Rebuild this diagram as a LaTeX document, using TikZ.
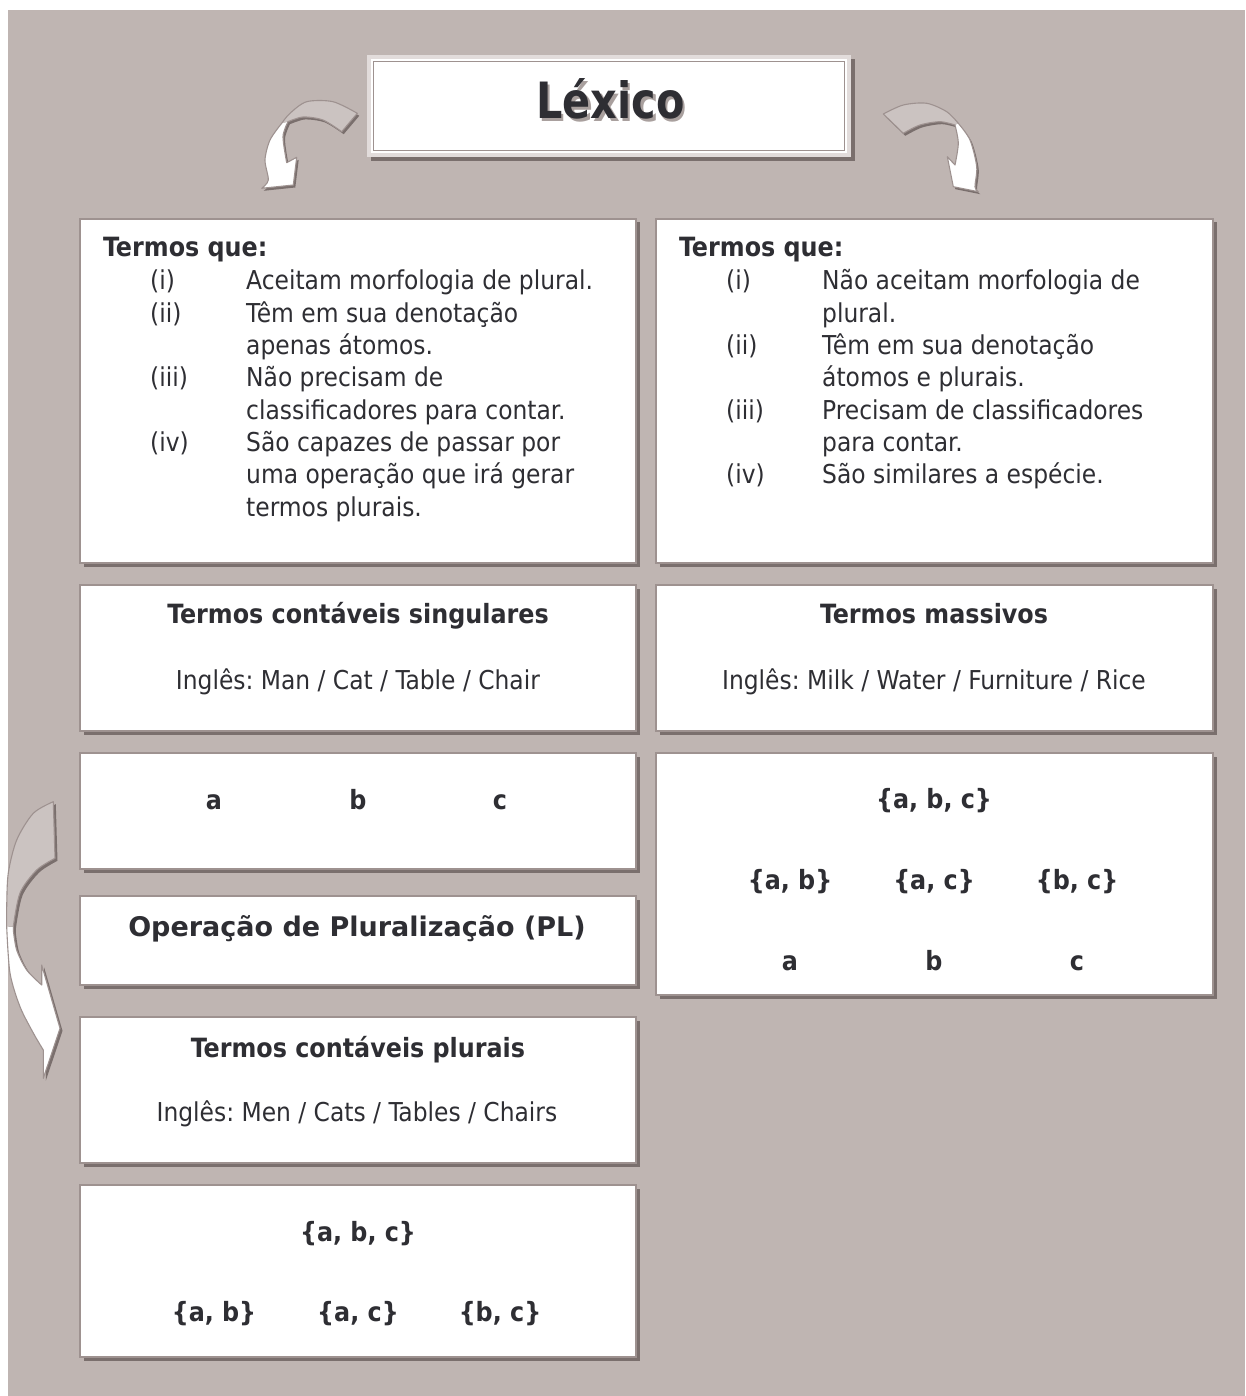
\documentclass[tikz,border=0pt]{standalone}
\usepackage{fontspec}
\setmainfont{DejaVu Sans Condensed}
\newfontfamily\wideb{DejaVu Sans}
\usetikzlibrary{shadows}
\frenchspacing
\definecolor{bg}{HTML}{BFB5B2}
\definecolor{ink}{HTML}{2E2E33}
\definecolor{boxline}{HTML}{9E9290}
\definecolor{shadowc}{HTML}{7A6F6D}
\definecolor{argray}{HTML}{CBC3C1}
\definecolor{framelight}{HTML}{E2DCDB}
\definecolor{tshadow}{HTML}{A9A09E}
\tikzset{
  box/.style={draw=boxline, line width=2.5pt, fill=white, inner sep=0pt,
    drop shadow={shadow xshift=3.5pt, shadow yshift=-3.5pt, fill=shadowc, opacity=1}},
  lbl/.style={anchor=base west, inner sep=0pt},
  ctr/.style={anchor=base, inner sep=0pt},
  arline/.style={draw=boxline, line width=1.1pt, line join=round},
  bodyf/.style={font=\fontsize{26}{30}\selectfont},
  boldf/.style={font=\fontsize{26.5}{30}\selectfont\bfseries},
}
\begin{document}
\begin{tikzpicture}[x=1pt,y=-1pt, every node/.style={text=ink, bodyf}]
\useasboundingbox (0,0) rectangle (1245,1396);
\fill[white] (0,0) rectangle (1245,1396);
\fill[bg] (8,10) rectangle (1245,1396);

% ---------- title ----------
\fill[shadowc] (371,59) rectangle (855,161);
\node[fill=framelight, inner sep=0pt, minimum width=484pt, minimum height=102pt] (T) at (609,106) {};
\fill[white] ([xshift=4pt,yshift=-4pt]T.north west) rectangle ([xshift=-4pt,yshift=4pt]T.south east);
\draw[boxline, line width=1.3pt] ([xshift=6.5pt,yshift=-6.5pt]T.north west) rectangle ([xshift=-6.5pt,yshift=6.5pt]T.south east);
\node[ctr, text=tshadow, font=\fontsize{50}{50}\selectfont\bfseries, xscale=0.92, transform shape] at (613,121.5) {Léxico};
\node[ctr, font=\fontsize{50}{50}\selectfont\bfseries, xscale=0.92, transform shape] (Tt) at (610.5,119) {Léxico};

% ---------- small arrows ----------
\begin{scope}[shift={(2,2.5)}]
\fill[shadowc] (357.3,113.3) -- (341.7,131.7) -- plot[smooth] coordinates {(341.7,131.7) (323,120) (303,117) (288,121.7)}
  -- plot[smooth] coordinates {(288,121.7) (283,136.7) (286.7,162.7)} -- (296.7,157.3) -- (293.3,185) -- (261.7,188.3)
  -- plot[smooth] coordinates {(261.7,188.3) (268.3,180) (265,160) (270,140) (281.7,123.3)}
  -- plot[smooth] coordinates {(281.7,123.3) (290,113.3) (306.7,101.7) (333,101.7) (357.3,113.3)} -- cycle;
\fill[shadowc] (883.3,114) -- (903.3,133.3) -- plot[smooth] coordinates {(903.3,133.3) (920,125) (940,121.7) (955,125)}
  -- plot[smooth] coordinates {(955,125) (958.3,143.3) (955,165)} -- (947.3,156.7) -- (953.3,186.7) -- (978.3,191.7)
  -- plot[smooth] coordinates {(978.3,191.7) (975,186.7) (976.7,166.7) (970,140) (958.3,123.3)}
  -- plot[smooth] coordinates {(958.3,123.3) (946.7,111.7) (926.7,103.3) (903.3,105) (883.3,114)} -- cycle;
\end{scope}
% left small arrow
\fill[white] (288,121.7) -- plot[smooth] coordinates {(288,121.7) (283,136.7) (286.7,162.7)} -- (296.7,157.3) -- (293.3,185) -- (261.7,188.3)
  -- plot[smooth] coordinates {(261.7,188.3) (268.3,180) (265,160) (270,140) (281.7,123.3)} -- cycle;
\fill[argray] (357.3,113.3) -- (341.7,131.7) -- plot[smooth] coordinates {(341.7,131.7) (323,120) (303,117) (288,121.7)}
  -- (281.7,123.3) -- plot[smooth] coordinates {(281.7,123.3) (290,113.3) (306.7,101.7) (333,101.7) (357.3,113.3)} -- cycle;
\draw[arline] (357.3,113.3) -- (341.7,131.7) -- plot[smooth] coordinates {(341.7,131.7) (323,120) (303,117) (288,121.7)}
  -- plot[smooth] coordinates {(288,121.7) (283,136.7) (286.7,162.7)} -- (296.7,157.3) -- (293.3,185) -- (261.7,188.3)
  -- plot[smooth] coordinates {(261.7,188.3) (268.3,180) (265,160) (270,140) (281.7,123.3)}
  -- plot[smooth] coordinates {(281.7,123.3) (290,113.3) (306.7,101.7) (333,101.7) (357.3,113.3)} -- cycle;
% right small arrow
\fill[white] (955,125) -- plot[smooth] coordinates {(955,125) (958.3,143.3) (955,165)} -- (947.3,156.7) -- (953.3,186.7) -- (978.3,191.7)
  -- plot[smooth] coordinates {(978.3,191.7) (975,186.7) (976.7,166.7) (970,140) (958.3,123.3)} -- cycle;
\fill[argray] (883.3,114) -- (903.3,133.3) -- plot[smooth] coordinates {(903.3,133.3) (920,125) (940,121.7) (955,125)}
  -- (958.3,123.3) -- plot[smooth] coordinates {(958.3,123.3) (946.7,111.7) (926.7,103.3) (903.3,105) (883.3,114)} -- cycle;
\draw[arline] (883.3,114) -- (903.3,133.3) -- plot[smooth] coordinates {(903.3,133.3) (920,125) (940,121.7) (955,125)}
  -- plot[smooth] coordinates {(955,125) (958.3,143.3) (955,165)} -- (947.3,156.7) -- (953.3,186.7) -- (978.3,191.7)
  -- plot[smooth] coordinates {(978.3,191.7) (975,186.7) (976.7,166.7) (970,140) (958.3,123.3)}
  -- plot[smooth] coordinates {(958.3,123.3) (946.7,111.7) (926.7,103.3) (903.3,105) (883.3,114)} -- cycle;

% ---------- long left arrow ----------
\begin{scope}[shift={(2.5,2.5)}]
\fill[shadowc] (53.3,801.7) -- (55,858.3) -- plot[smooth] coordinates {(55,858.3) (36.7,870) (20,893) (13.3,926.7)}
  -- plot[smooth] coordinates {(13.3,930) (16.7,950) (26.7,970) (41.7,985)} -- (41.7,965) -- (60,1028.3) -- (43.3,1078.3) -- (43.3,1050)
  -- plot[smooth] coordinates {(43.3,1050) (33.3,1033) (20,1006.7) (10,973) (6.7,926.7)}
  -- plot[smooth] coordinates {(6.7,926.7) (6.7,906.7) (8.3,873) (16.7,840) (33.3,813.3) (53.3,801.7)} -- cycle;
\end{scope}
\fill[white] (13.3,926.7) -- plot[smooth] coordinates {(13.3,930) (16.7,950) (26.7,970) (41.7,985)} -- (41.7,965) -- (60,1028.3) -- (43.3,1078.3) -- (43.3,1050)
  -- plot[smooth] coordinates {(43.3,1050) (33.3,1033) (20,1006.7) (10,973) (6.7,926.7)} -- cycle;
\fill[argray] (53.3,801.7) -- (55,858.3) -- plot[smooth] coordinates {(55,858.3) (36.7,870) (20,893) (13.3,926.7)}
  -- (6.7,926.7) -- plot[smooth] coordinates {(6.7,926.7) (6.7,906.7) (8.3,873) (16.7,840) (33.3,813.3) (53.3,801.7)} -- cycle;
\draw[arline] (53.3,801.7) -- (55,858.3) -- plot[smooth] coordinates {(55,858.3) (36.7,870) (20,893) (13.3,926.7)}
  -- plot[smooth] coordinates {(13.3,930) (16.7,950) (26.7,970) (41.7,985)} -- (41.7,965) -- (60,1028.3) -- (43.3,1078.3) -- (43.3,1050)
  -- plot[smooth] coordinates {(43.3,1050) (33.3,1033) (20,1006.7) (10,973) (6.7,926.7)}
  -- plot[smooth] coordinates {(6.7,926.7) (6.7,906.7) (8.3,873) (16.7,840) (33.3,813.3) (53.3,801.7)} -- cycle;

% ---------- boxes ----------
\node[box, minimum width=556pt, minimum height=344pt] (A) at (358,391) {};
\node[box, minimum width=557pt, minimum height=344pt] (B) at (934.5,391) {};
\node[box, minimum width=556pt, minimum height=146pt] (C) at (358,658) {};
\node[box, minimum width=557pt, minimum height=146pt] (D) at (934.5,658) {};
\node[box, minimum width=556pt, minimum height=116pt] (E) at (358,811) {};
\node[box, minimum width=556pt, minimum height=89pt] (F) at (358,940.5) {};
\node[box, minimum width=557pt, minimum height=242pt] (G) at (934.5,874) {};
\node[box, minimum width=556pt, minimum height=146pt] (H) at (358,1090) {};
\node[box, minimum width=556pt, minimum height=172pt] (I) at (358,1271) {};

% ---------- box A text ----------
\node[lbl, boldf] (Ah) at (103,257) {Termos que:};
\node[lbl] (A1l) at (150,290) {(i)};   \node[lbl] (A1) at (246,290) {Aceitam morfologia de plural.};
\node[lbl] (A2l) at (150,322.3) {(ii)}; \node[lbl] (A2) at (246,322.3) {Têm em sua denotação};
\node[lbl] (A2b) at (246,354.6) {apenas átomos.};
\node[lbl] (A3l) at (150,386.9) {(iii)}; \node[lbl] (A3) at (246,386.9) {Não precisam de};
\node[lbl] (A3b) at (246,419.2) {classificadores para contar.};
\node[lbl] (A4l) at (150,451.5) {(iv)}; \node[lbl] (A4) at (246,451.5) {São capazes de passar por};
\node[lbl] (A4b) at (246,483.8) {uma operação que irá gerar};
\node[lbl] (A4c) at (246,516.1) {termos plurais.};

% ---------- box B text ----------
\node[lbl, boldf] (Bh) at (679,257) {Termos que:};
\node[lbl] (B1l) at (726,290) {(i)};   \node[lbl] (B1) at (822,290) {Não aceitam morfologia de};
\node[lbl] (B1b) at (822,322.3) {plural.};
\node[lbl] (B2l) at (726,354.6) {(ii)}; \node[lbl] (B2) at (822,354.6) {Têm em sua denotação};
\node[lbl] (B2b) at (822,386.9) {átomos e plurais.};
\node[lbl] (B3l) at (726,419.2) {(iii)}; \node[lbl] (B3) at (822,419.2) {Precisam de classificadores};
\node[lbl] (B3b) at (822,451.5) {para contar.};
\node[lbl] (B4l) at (726,483.8) {(iv)}; \node[lbl] (B4) at (822,483.8) {São similares a espécie.};

% ---------- C, D ----------
\node[ctr, boldf] (Ch) at (358,623) {Termos contáveis singulares};
\node[ctr] (Ct) at (358,689) {Inglês: Man / Cat / Table / Chair};
\node[ctr, boldf] (Dh) at (934,623) {Termos massivos};
\node[ctr] (Dt) at (934,689) {Inglês: Milk / Water / Furniture / Rice};

% ---------- E, G, I, H ----------
\begin{scope}[every node/.style={ctr, text=ink, boldf}]
\node (Ea) at (214,809) {a};
\node (Eb) at (358,809) {b};
\node (Ec) at (500,809) {c};
\node (G1) at (934,808) {\{a, b, c\}};
\node (G2) at (790,889) {\{a, b\}};
\node (G3) at (934,889) {\{a, c\}};
\node (G4) at (1077,889) {\{b, c\}};
\node (G5) at (790,970) {a};
\node (G6) at (934,970) {b};
\node (G7) at (1077,970) {c};
\node (I1) at (358,1241) {\{a, b, c\}};
\node (I2) at (214,1321) {\{a, b\}};
\node (I3) at (358,1321) {\{a, c\}};
\node (I4) at (500,1321) {\{b, c\}};
\node (Hh) at (358,1057) {Termos contáveis plurais};
\end{scope}
\node[ctr] (Ht) at (357,1121) {Inglês: Men / Cats / Tables / Chairs};

% ---------- F ----------
\node[ctr, font=\fontsize{27}{30}\selectfont\wideb\bfseries] (Fh) at (357,936) {Operação de Pluralização (PL)};
\end{tikzpicture}
\end{document}
